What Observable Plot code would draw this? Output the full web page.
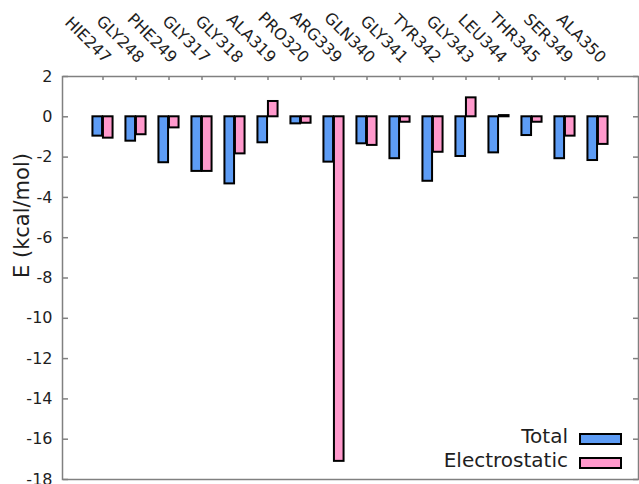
<!DOCTYPE html>
<html><head><meta charset="utf-8">
<script src="https://cdn.jsdelivr.net/npm/d3@7"></script>
<script src="https://cdn.jsdelivr.net/npm/@observablehq/plot@0.6"></script>
<style>
html,body{margin:0;padding:0;background:#fff;}
#chart svg{display:block;}
</style>
</head><body><div id="chart"></div>
<script>
const residues = ["HIE247","GLY248","PHE249","GLY317","GLY318","ALA319","PRO320","ARG339","GLN340","GLY341","TYR342","GLY343","LEU344","THR345","SER349","ALA350"];
const totalEnergy = [-0.96,-1.21,-2.28,-2.71,-3.33,-1.29,-0.35,-2.25,-1.34,-2.08,-3.2,-1.97,-1.79,-0.93,-2.08,-2.17];
const electroEnergy = [-1.06,-0.89,-0.55,-2.71,-1.84,0.76,-0.32,-17.1,-1.42,-0.27,-1.76,0.94,0.06,-0.27,-0.96,-1.37];
const yTicks = [-18,-16,-14,-12,-10,-8,-6,-4,-2,0,2];
const seriesNames = ["Total","Electrostatic"];
const seriesColors = ["#5d9cf5","#ff99cc"];
const yLabel = "E (kcal/mol)";

const data = residues.map((r,i)=>({residue:r, total: totalEnergy[i], electro: electroEnergy[i]}));

const W=639,H=484, mL=62, mR=1, mT=76, mB=5;
const step = (W-mL-mR)/(residues.length+1);
const barW = 10.5;
const innerInset = step/2, outerInset = step/2 - barW;
const axisGray = "#808080", textColor = "#1e1e1e";

const chart = Plot.plot({
  width: W, height: H, marginLeft: mL, marginRight: mR, marginTop: mT, marginBottom: mB,
  style: {fontFamily: "DejaVu Sans", background: "#fff", color: textColor},
  x: {type:"band", domain: residues, paddingInner: 0, paddingOuter: 0.5},
  y: {domain: [-18, 2]},
  marks: [
    Plot.barY(data, {x:"residue", y:"total", fill: seriesColors[0], stroke:"black", strokeWidth:2, insetLeft: outerInset, insetRight: innerInset}),
    Plot.barY(data, {x:"residue", y:"electro", fill: seriesColors[1], stroke:"black", strokeWidth:2, insetLeft: innerInset, insetRight: outerInset}),
    Plot.frame({stroke: axisGray, strokeWidth:1.5}),
    Plot.axisY(yTicks, {anchor:"left", tickSize:0, tickPadding:10, fontSize:16, label:null, fill:textColor, tickFormat: d => String(d)}),
    Plot.axisY(yTicks, {anchor:"right", frameAnchor:"left", tickSize:5, tickFormat:()=>"", label:null, stroke:axisGray, strokeWidth:1.5}),
    Plot.axisY(yTicks, {anchor:"left", frameAnchor:"right", tickSize:5, tickFormat:()=>"", label:null, stroke:axisGray, strokeWidth:1.5}),
    Plot.axisX({anchor:"bottom", frameAnchor:"top", tickSize:4, tickFormat:()=>"", label:null, stroke:axisGray, strokeWidth:1.5}),
    Plot.text([yLabel], {frameAnchor:"left", dx:-40, rotate:-90, fontSize:21, fill:textColor})
  ]
});

const svg = d3.select(chart);
// rotated residue labels above the frame, positioned through the plot's x scale
const xs = chart.scale("x");
const lab = svg.append("g").attr("font-family","DejaVu Sans").attr("font-size",16).attr("fill",textColor);
residues.forEach(r => {
  const cx = xs.apply(r) + xs.bandwidth/2;
  lab.append("text").attr("transform", `translate(${cx+2},${mT-12}) rotate(45)`)
    .attr("text-anchor","end").text(r);
});

const lg = svg.append("g").attr("font-family","DejaVu Sans").attr("font-size",20).attr("fill",textColor);
const right = W - mR, bottom = H - mB;
seriesNames.forEach((name,i)=>{
  const top = bottom - 45 + i*24;
  lg.append("rect").attr("x", right-58).attr("y", top).attr("width",41).attr("height",10)
    .attr("fill",seriesColors[i]).attr("stroke","black").attr("stroke-width",2);
  lg.append("text").attr("x", right-70).attr("y", top+9).attr("text-anchor","end").text(name);
});

document.getElementById("chart").appendChild(chart);
</script>
</body></html>
